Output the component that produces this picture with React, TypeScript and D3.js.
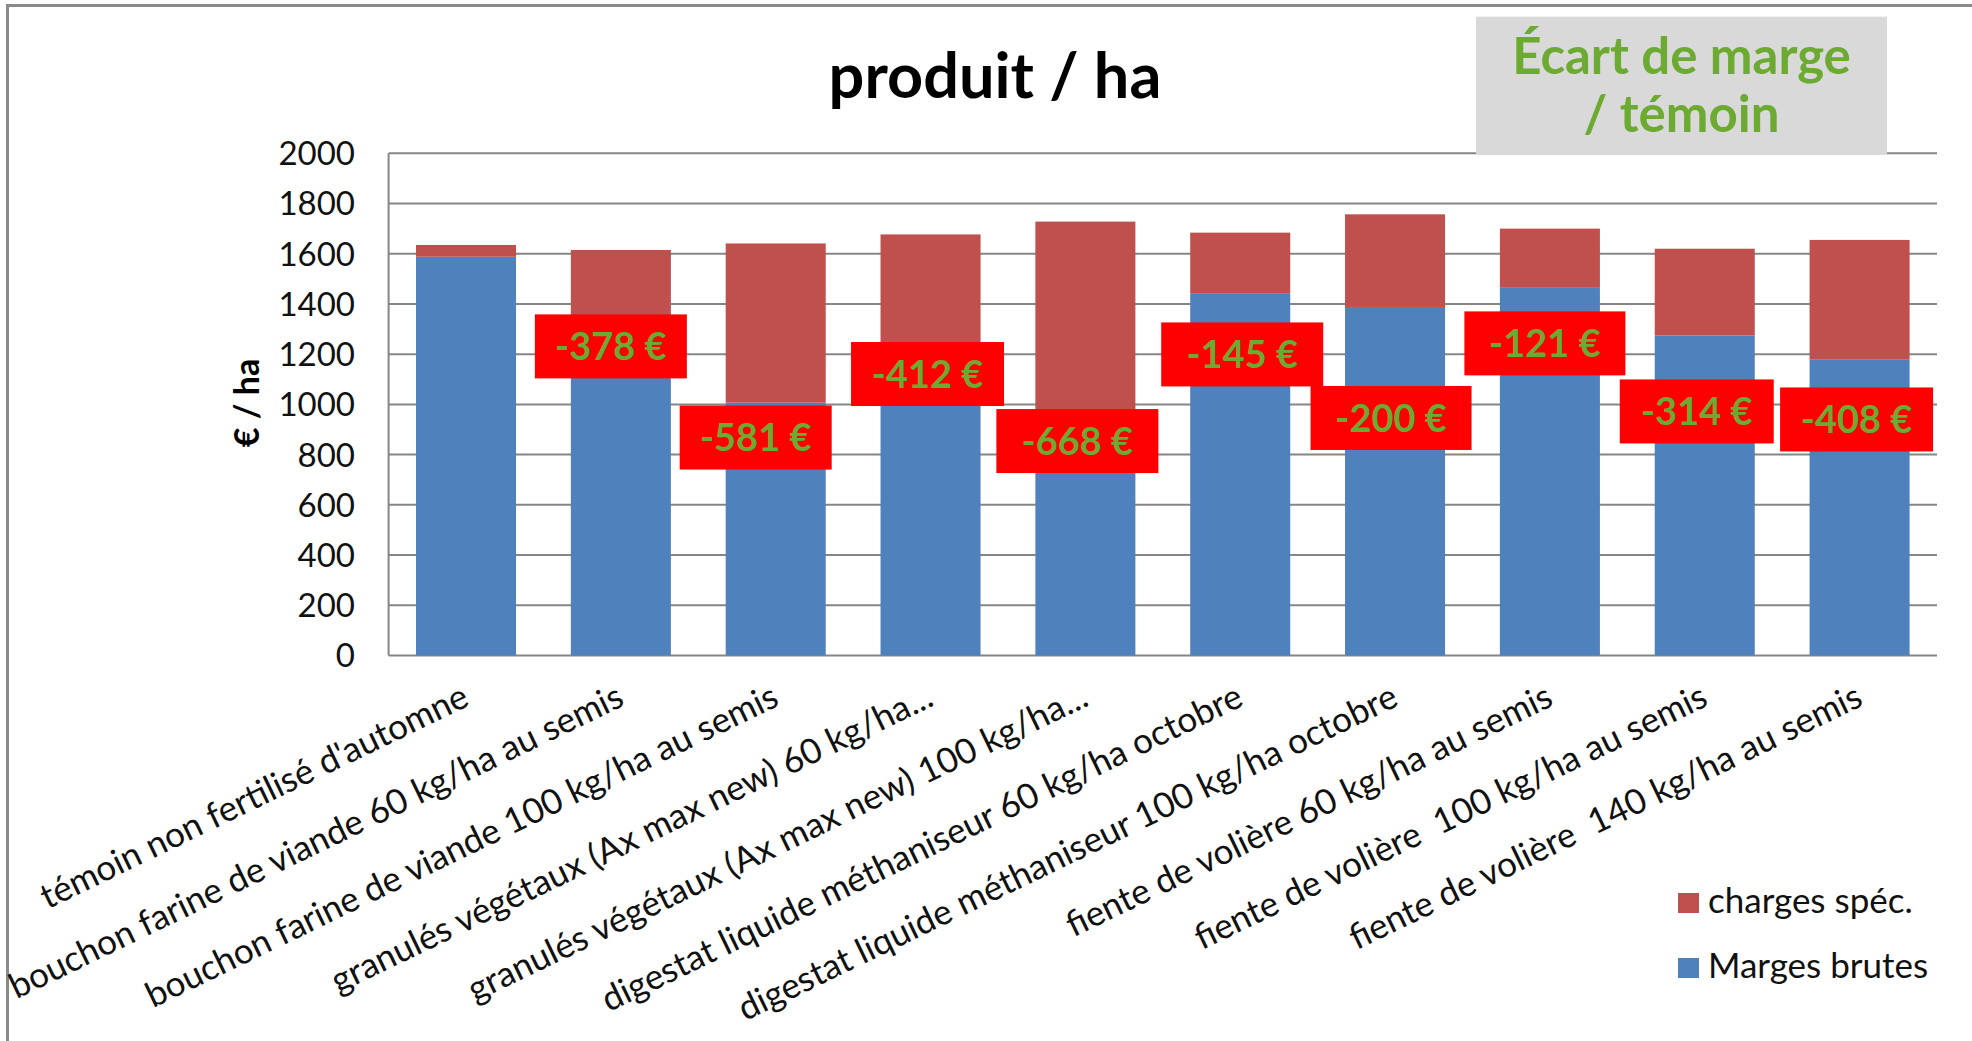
import React from "react";
import * as d3 from "d3";

const categories = [
  "témoin non fertilisé d'automne",
  "bouchon farine de viande 60 kg/ha au semis",
  "bouchon farine de viande 100 kg/ha au semis",
  "granulés végétaux (Ax max new) 60 kg/ha...",
  "granulés végétaux (Ax max new) 100 kg/ha...",
  "digestat liquide méthaniseur 60 kg/ha octobre",
  "digestat liquide méthaniseur 100 kg/ha octobre",
  "fiente de volière 60 kg/ha au semis",
  "fiente de volière  100 kg/ha au semis",
  "fiente de volière  140 kg/ha au semis",
];
const margesBrutes = [1588, 1210, 1007, 1176, 920, 1443, 1388, 1467, 1274, 1180];
const chargesSpec = [47, 405, 634, 501, 808, 241, 369, 233, 346, 475];
const ecartMarge = [null, -378, -581, -412, -668, -145, -200, -121, -314, -408];
const yTicks = [0, 200, 400, 600, 800, 1000, 1200, 1400, 1600, 1800, 2000];
// annotation placement (level in €/ha, x offset px, box width px)
const annotLevel = [0, 1231, 868, 1121, 854, 1199, 946, 1243, 972, 940];
const annotDx = [0, -10, -20, -3, -8, 2, -4, -5, -8, -3];
const annotW = [0, 152, 152, 153, 162, 162, 161, 161, 154, 153];

const seriesKeys = ["marges", "charges"];
const seriesNames: Record<string, string> = { marges: "Marges brutes", charges: "charges spéc." };
const seriesColors: Record<string, string> = { marges: "#4F81BD", charges: "#C0504D" };

const W = 1972;
const H = 1041;
const X0 = 388.6;
const X1 = 1937;
const Y0 = 655.5;
const Y1 = 153.3;
const GREEN = "#6CAA32";
const FONT = "Lato, 'Open Sans', sans-serif";

export default function App() {
  const table = categories.map((c, i) => ({ cat: c, marges: margesBrutes[i], charges: chargesSpec[i] }));
  const x = d3.scaleBand<string>().domain(categories).range([X0, X1]).paddingInner(0.354).paddingOuter(0.177);
  const y = d3.scaleLinear().domain([0, 2000]).range([Y0, Y1]);
  const stacked = d3.stack<any>().keys(seriesKeys)(table);

  return (
    <svg
      width={W}
      height={H}
      style={{ position: "absolute", left: 0, top: 0, background: "#fff" }}
      fontFamily={FONT}
    >
      <rect x={0} y={0} width={W} height={H} fill="#fff" />
      <rect x={7.5} y={5.5} width={W + 20} height={H + 20} fill="none" stroke="#8a8a8a" strokeWidth={3} />

      {/* gridlines */}
      {yTicks.map((t) => (
        <line key={t} x1={X0} x2={X1} y1={y(t)} y2={y(t)} stroke="#868686" strokeWidth={2} />
      ))}
      <line x1={X0} x2={X0} y1={Y1} y2={Y0} stroke="#868686" strokeWidth={2} />

      {/* y ticks */}
      {yTicks.map((t) => (
        <text key={t} x={355} y={y(t)} dy="0.36em" textAnchor="end" fontSize={33} fill="#111">
          {t}
        </text>
      ))}
      <text
        transform={`translate(259, 403) rotate(-90)`}
        textAnchor="middle"
        fontSize={34}
        fontWeight={700}
        fill="#000"
      >
        € / ha
      </text>

      {/* bars */}
      {stacked.map((s) => (
        <g key={s.key} fill={seriesColors[s.key]}>
          {s.map((d, i) => (
            <rect
              key={i}
              x={x(categories[i])}
              width={x.bandwidth()}
              y={y(d[1])}
              height={y(d[0]) - y(d[1])}
            />
          ))}
        </g>
      ))}

      {/* x labels */}
      {categories.map((c) => (
        <text
          key={c}
          transform={`translate(${(x(c) as number) + x.bandwidth() / 2 - 6}, 682) rotate(-25.8)`}
          textAnchor="end"
          dy="0.72em"
          fontSize={35}
          fill="#111"
          style={{ whiteSpace: "pre" }}
        >
          {c}
        </text>
      ))}

      {/* annotations */}
      {ecartMarge.map((v, i) => {
        if (v === null) return null;
        const cx = (x(categories[i]) as number) + x.bandwidth() / 2 + annotDx[i];
        const cy = y(annotLevel[i]);
        const w = annotW[i];
        const h = 64;
        return (
          <g key={i}>
            <rect x={cx - w / 2} y={cy - h / 2} width={w} height={h} fill="#FF0000" />
            <text x={cx} y={cy} dy="0.36em" textAnchor="middle" fontSize={38} fontWeight={700} fill={GREEN}>
              {`${v} €`}
            </text>
          </g>
        );
      })}

      {/* title */}
      <text x={995} y={98} textAnchor="middle" fontSize={63} fontWeight={700} fill="#000">
        produit / ha
      </text>

      {/* grey box */}
      <rect x={1476} y={16.7} width={411} height={138.3} fill="#D9D9D9" />
      <text x={1681.5} y={74} textAnchor="middle" fontSize={51} fontWeight={700} fill={GREEN}>
        Écart de marge
      </text>
      <text x={1681.5} y={131.7} textAnchor="middle" fontSize={51} fontWeight={700} fill={GREEN}>
        / témoin
      </text>

      {/* legend */}
      {["charges", "marges"].map((k, i) => (
        <g key={k} transform={`translate(1678, ${893 + i * 65})`}>
          <rect x={0} y={0} width={21} height={20} fill={seriesColors[k]} />
          <text x={30} y={20} fontSize={35} fill="#111">
            {seriesNames[k]}
          </text>
        </g>
      ))}
    </svg>
  );
}
